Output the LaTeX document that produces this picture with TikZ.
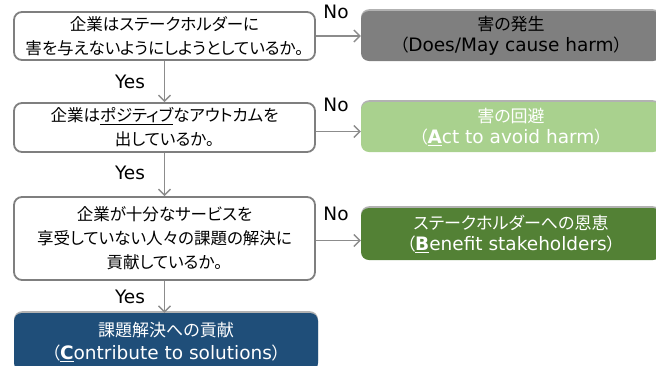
\documentclass[tikz,border=0pt]{standalone}
\usepackage{fontspec}
\setmainfont{DejaVu Sans}
\newfontfamily\jp[RawFeature=+palt]{Noto Sans CJK JP}
\usetikzlibrary{arrows.meta,shadows}
\definecolor{bordergray}{HTML}{7F7F7F}
\definecolor{arrowgray}{HTML}{8C8C8C}
\definecolor{harmgray}{HTML}{7F7F7F}
\definecolor{lightgreen}{HTML}{A9D18E}
\definecolor{darkgreen}{HTML}{538135}
\definecolor{navy}{HTML}{1F4E79}
\begin{document}
\begin{tikzpicture}[x=1pt,y=-1pt,
  decision/.style={draw=bordergray,line width=1.8pt,rounded corners=8pt,fill=white,
    minimum width=301pt,align=center,font=\fontsize{16.5}{24}\selectfont\jp,inner sep=0pt},
  result/.style={rounded corners=8pt,minimum width=300pt,align=center,
    font=\fontsize{18.5}{21}\selectfont,inner sep=0pt,
    drop shadow={shadow xshift=0pt,shadow yshift=1.8pt,opacity=0.3,fill=black}},
  conn/.style={draw=arrowgray,line width=1.6pt,-{Straight Barb[length=6pt,width=12pt,line width=1.4pt]}},
  lbl/.style={font=\fontsize{18.5}{20}\selectfont,inner sep=0pt}
]
\newcommand\jpr[1]{{\fontsize{17}{21}\selectfont\jp #1}}
\useasboundingbox (0,0) rectangle (656,365);
\node[decision,minimum height=48pt] (d1) at (164.5,36) {企業はステークホルダーに\\害を与えないようにしようとしているか。};
\node[decision,minimum height=49pt] (d2) at (164.5,127.5) {企業は\underline{ポジティブ}なアウトカムを\\出しているか。};
\node[decision,minimum height=83pt] (d3) at (164.5,238.5) {企業が十分なサービスを\\享受していない人々の課題の解決に\\貢献しているか。};
\node[result,fill=harmgray,text=black,minimum height=50pt] (r1) at (511,36) {\jpr{害の発生}\\\jpr{（}Does/May cause harm\jpr{）}};
\node[result,fill=lightgreen,text=white,minimum height=50pt] (r2) at (511,127) {\jpr{害の回避}\\\jpr{（}\underline{\textbf{A}}ct to avoid harm\jpr{）}};
\node[result,fill=darkgreen,text=white,minimum height=52pt] (r3) at (511,234) {\jpr{ステークホルダーへの恩恵}\\\jpr{（}\underline{\textbf{B}}enefit stakeholders\jpr{）}};
\node[result,fill=navy,text=white,minimum width=304pt,minimum height=58pt,font=\fontsize{18.5}{23}\selectfont] (r4) at (166,342) {\jpr{課題解決への貢献}\\\jpr{（}\underline{\textbf{C}}ontribute to solutions\jpr{）}};
\draw[conn] (d1.south) -- (d2.north);
\draw[conn] (d2.south) -- (d3.north);
\draw[conn] (d3.south) -- (r4.north -| d3.south);
\draw[conn] (d1.east) -- (d1.east -| r1.west);
\draw[conn] ([yshift=-4pt]d2.east) -- ([yshift=-4pt]d2.east -| r2.west);
\draw[conn] ([yshift=-2pt]d3.east) -- ([yshift=-2pt]d3.east -| r3.west);
\node[lbl] (no1) at (336,12) {No};
\node[lbl] (no2) at (336,105) {No};
\node[lbl] (no3) at (336,214) {No};
\node[lbl] (y1) at (130,82) {Yes};
\node[lbl] (y2) at (130,173) {Yes};
\node[lbl] (y3) at (130,297) {Yes};
\end{tikzpicture}
\end{document}
